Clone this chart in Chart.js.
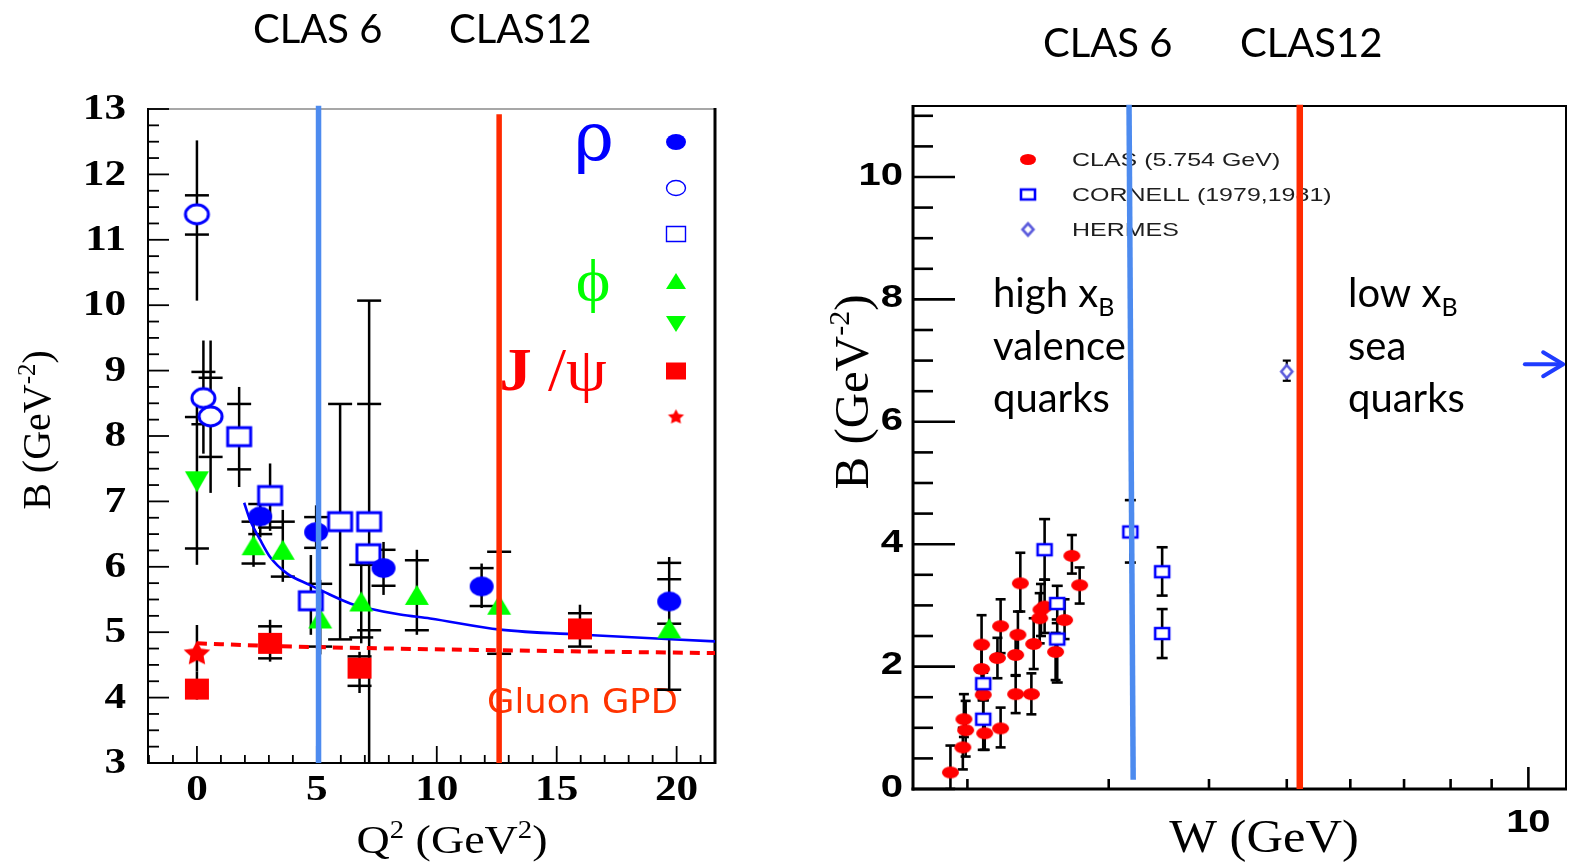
<!DOCTYPE html>
<html>
<head>
<meta charset="utf-8">
<script src="https://cdn.jsdelivr.net/npm/chart.js@4.4.1/dist/chart.umd.min.js"></script>
<style>
  html, body { margin: 0; padding: 0; background: #fff; }
  #wrap { position: relative; width: 1569px; height: 865px; overflow: hidden; background: #fff; }
  #left { position: absolute; left: 0; top: 0; }
  #right { position: absolute; left: 780px; top: 0; }
</style>
</head>
<body>
<div id="wrap">
  <canvas id="left" width="760" height="865"></canvas>
  <canvas id="right" width="789" height="865"></canvas>
</div>
<script>
// ---------- Left panel: B (GeV^-2) vs Q^2 (GeV^2) ----------
// each point: x = Q^2, y = B, lo/hi = error bar extent, caps = tick marks on the bar
const rhoFilled = [
  { x: 2.64,  y: 6.77, lo: 6.45, hi: 7.02, caps: [6.50, 6.96] },
  { x: 4.97,  y: 6.53, lo: 6.29, hi: 6.94, caps: [6.29, 6.76] },
  { x: 7.78,  y: 5.98, lo: 5.57, hi: 6.38, caps: [5.71, 6.26] },
  { x: 11.87, y: 5.70, lo: 5.37, hi: 6.05, caps: [5.40, 5.98] },
  { x: 19.69, y: 5.47, lo: 4.12, hi: 6.15, caps: [4.12, 5.13, 5.81, 6.06] }
];
const rhoOpenCircle = [
  { x: 0.00, y: 11.39, lo: 10.07, hi: 12.52, caps: [11.08, 11.68] },
  { x: 0.27, y: 8.58,  lo: 7.73,  hi: 9.46,  caps: [8.18, 8.98] },
  { x: 0.57, y: 8.30,  lo: 7.13,  hi: 9.46,  caps: [7.68, 8.89] }
];
const rhoOpenSquare = [
  { x: 1.76, y: 7.99, lo: 7.22, hi: 8.75, caps: [7.49, 8.49] },
  { x: 3.05, y: 7.09, lo: 6.55, hi: 7.58, caps: [6.60] },
  { x: 4.75, y: 5.48, lo: 4.96, hi: 6.18, caps: [] },
  { x: 5.97, y: 6.69, lo: 4.89, hi: 8.49, caps: [4.89, 8.49] },
  { x: 7.18, y: 6.69, lo: 2.50, hi: 10.07, caps: [5.03, 8.49, 10.07] },
  { x: 7.15, y: 6.20 }
];
const phiUp = [
  { x: 2.36,  y: 6.33, lo: 6.00, hi: 6.75, caps: [6.05, 6.69] },
  { x: 3.58,  y: 6.26, lo: 5.77, hi: 6.87, caps: [5.85, 6.69] },
  { x: 5.14,  y: 5.21, lo: 4.66, hi: 5.80, caps: [4.78, 5.74] },
  { x: 6.85,  y: 5.47, lo: 4.83, hi: 6.08, caps: [4.92, 6.03] },
  { x: 9.17,  y: 5.57, lo: 4.96, hi: 6.26, caps: [5.03, 6.10] },
  { x: 12.60, y: 5.42, lo: 4.67, hi: 6.23, caps: [4.67, 6.23] },
  { x: 19.69, y: 5.06 }
];
const phiDown = [
  { x: 0.00, y: 7.30, lo: 6.03, hi: 8.55, caps: [6.28, 8.29] }
];
const jpsiSquare = [
  { x: 0.00,  y: 4.13, lo: 3.97, hi: 4.40, caps: [] },
  { x: 3.05,  y: 4.83, lo: 4.55, hi: 5.19, caps: [4.60, 5.09] },
  { x: 6.78,  y: 4.45, lo: 4.07, hi: 4.70, caps: [4.18, 4.63] },
  { x: 15.97, y: 5.05, lo: 4.78, hi: 5.42, caps: [4.78, 5.29] }
];
const jpsiStar = [
  { x: 0.00, y: 4.70, lo: 4.40, hi: 5.11, caps: [] }
];
// fitted curves
const rhoFit = [[1.97, 6.98], [2.22, 6.71], [2.64, 6.41], [3.05, 6.15], [3.75, 5.90], [4.72, 5.72],
  [5.28, 5.62], [6.39, 5.44], [7.08, 5.37], [8.47, 5.27], [9.72, 5.21], [12.64, 5.04], [16.1, 4.96], [21.6, 4.86]];
const gluonFit = [[0, 4.83], [3, 4.79], [9.7, 4.74], [21.6, 4.68]];
// CLAS 6 / CLAS12 reach in Q^2
const clas6Q2 = 5.07, clas12Q2 = 12.6;
const leftYLabels = [3, 4, 5, 6, 7, 8, 9, 10, 11, 12, 13];
const leftXLabels = [0, 5, 10, 15, 20];

// ---------- Right panel: B (GeV^-2) vs W (GeV) ----------
const clasW = [
  { x: 1.905, y: 0.27, lo: 0.00, hi: 0.71 },
  { x: 1.974, y: 0.68, lo: 0.32, hi: 1.00 },
  { x: 1.990, y: 0.96, lo: 0.53, hi: 1.44 },
  { x: 1.980, y: 1.14, lo: 0.85, hi: 1.55 },
  { x: 2.083, y: 2.36, lo: 1.90, hi: 2.84 },
  { x: 2.083, y: 1.96, lo: 1.60, hi: 2.30 },
  { x: 2.093, y: 1.54, lo: 1.20, hi: 1.90 },
  { x: 2.102, y: 0.91, lo: 0.64, hi: 1.20 },
  { x: 2.180, y: 2.14, lo: 1.81, hi: 2.47 },
  { x: 2.200, y: 2.66, lo: 2.22, hi: 3.10 },
  { x: 2.200, y: 0.99, lo: 0.68, hi: 1.33 },
  { x: 2.297, y: 2.19, lo: 1.85, hi: 2.55 },
  { x: 2.297, y: 1.55, lo: 1.24, hi: 1.86 },
  { x: 2.312, y: 2.52, lo: 2.20, hi: 2.90 },
  { x: 2.328, y: 3.36, lo: 2.90, hi: 3.86 },
  { x: 2.403, y: 1.55, lo: 1.22, hi: 1.89 },
  { x: 2.419, y: 2.37, lo: 1.96, hi: 2.79 },
  { x: 2.461, y: 2.79, lo: 2.38, hi: 3.20 },
  { x: 2.470, y: 2.93, lo: 2.50, hi: 3.35 },
  { x: 2.496, y: 2.98, lo: 2.55, hi: 3.42 },
  { x: 2.576, y: 2.24, lo: 1.78, hi: 2.55 },
  { x: 2.643, y: 2.76, lo: 2.45, hi: 3.10 },
  { x: 2.699, y: 3.81, lo: 3.52, hi: 4.15 },
  { x: 2.760, y: 3.33, lo: 3.03, hi: 3.62 }
];
const cornellW = [
  { x: 2.093, y: 1.72, lo: 1.45, hi: 1.97 },
  { x: 2.093, y: 1.14, lo: 0.64, hi: 1.45 },
  { x: 2.496, y: 3.91, lo: 3.42, hi: 4.41 },
  { x: 2.588, y: 3.03, lo: 2.71, hi: 3.32 },
  { x: 2.588, y: 2.45, lo: 1.74, hi: 2.77 },
  { x: 3.192, y: 4.20, lo: 3.70, hi: 4.72 },
  { x: 3.497, y: 3.55, lo: 3.16, hi: 3.95 },
  { x: 3.497, y: 2.54, lo: 2.14, hi: 2.94 }
];
const hermesW = [
  { x: 5.00, y: 6.82, lo: 6.67, hi: 7.00 }
];
// CLAS 6 line leans slightly; CLAS12 reach in W
const clas6W = [[3.18, 11.18], [3.218, 0.15]];
const clas12W = [[5.19, 11.18], [5.19, 0.0]];
const rightYLabels = [0, 2, 4, 6, 8, 10];
const rightXLabels = [10];

// ---------- helpers ----------
const SERIF = '"Liberation Serif", "DejaVu Serif", "Times New Roman", serif';
const SANS = '"Liberation Sans", Arial, sans-serif';
const LATO = 'Lato, "Open Sans", sans-serif';

function marker(kind, w, h, color, lw) {
  const pad = (lw || 0) + 2;
  const c = document.createElement('canvas');
  c.width = Math.ceil(w + pad * 2);
  c.height = Math.ceil(h + pad * 2);
  const g = c.getContext('2d');
  const cx = c.width / 2, cy = c.height / 2;
  g.beginPath();
  if (kind === 'ellipse') {
    g.ellipse(cx, cy, w / 2, h / 2, 0, 0, Math.PI * 2);
  } else if (kind === 'rect') {
    g.rect(cx - w / 2, cy - h / 2, w, h);
  } else if (kind === 'triUp') {
    g.moveTo(cx, cy - h / 2); g.lineTo(cx + w / 2, cy + h / 2); g.lineTo(cx - w / 2, cy + h / 2); g.closePath();
  } else if (kind === 'triDown') {
    g.moveTo(cx, cy + h / 2); g.lineTo(cx + w / 2, cy - h / 2); g.lineTo(cx - w / 2, cy - h / 2); g.closePath();
  } else if (kind === 'diamond') {
    g.moveTo(cx, cy - h / 2); g.lineTo(cx + w / 2, cy); g.lineTo(cx, cy + h / 2); g.lineTo(cx - w / 2, cy); g.closePath();
  } else if (kind === 'star') {
    for (let i = 0; i < 10; i++) {
      const r = i % 2 === 0 ? 1 : 0.5;
      const a = -Math.PI / 2 + i * Math.PI / 5;
      const px = cx + Math.cos(a) * r * w / 2;
      const py = cy + 0.08 * h + Math.sin(a) * r * h / 2 * 1.05;
      if (i === 0) g.moveTo(px, py); else g.lineTo(px, py);
    }
    g.closePath();
  }
  if (lw) {
    g.fillStyle = '#fff'; g.fill();
    g.lineWidth = lw; g.strokeStyle = color; g.stroke();
  } else {
    g.fillStyle = color; g.fill();
  }
  return c;
}

function seg(ctx, x1, y1, x2, y2, color, lw) {
  ctx.save();
  ctx.strokeStyle = color; ctx.lineWidth = lw; ctx.lineCap = 'butt';
  ctx.beginPath(); ctx.moveTo(x1, y1); ctx.lineTo(x2, y2); ctx.stroke();
  ctx.restore();
}

// draws a run of text pieces: kind '' normal, 'b' bold, 'sup' superscript, 'sub' subscript
function rich(ctx, parts, x, y, size, family, color, opts) {
  opts = opts || {};
  ctx.save();
  ctx.translate(x, y);
  if (opts.rot) ctx.rotate(opts.rot);
  ctx.scale(opts.sx || 1, opts.sy || 1);
  ctx.fillStyle = color;
  ctx.textBaseline = opts.base || 'alphabetic';
  ctx.textAlign = 'left';
  const fontFor = k => (k === 'b' || opts.bold ? 'bold ' : '') +
    ((k === 'sup' || k === 'sub') ? Math.round(size * 0.62) : size) + 'px ' + family;
  let total = 0;
  for (const [t, k] of parts) { ctx.font = fontFor(k); total += ctx.measureText(t).width; }
  let cx = opts.align === 'left' ? 0 : opts.align === 'right' ? -total : -total / 2;
  for (const [t, k] of parts) {
    ctx.font = fontFor(k);
    const dy = k === 'sup' ? -size * 0.38 : k === 'sub' ? size * 0.22 : 0;
    ctx.fillText(t, cx, dy);
    cx += ctx.measureText(t).width;
  }
  ctx.restore();
}

function drawErrorBars(chart) {
  const { ctx, chartArea: a, scales: { x, y } } = chart;
  ctx.save();
  ctx.beginPath(); ctx.rect(a.left, a.top, a.right - a.left, a.bottom - a.top); ctx.clip();
  ctx.strokeStyle = '#000'; ctx.lineCap = 'butt';
  chart.data.datasets.forEach(ds => {
    if (!ds.bars) return;
    ctx.lineWidth = ds.bars.lw;
    ds.data.forEach(d => {
      if (d.lo == null) return;
      const px = x.getPixelForValue(d.x);
      ctx.beginPath();
      ctx.moveTo(px, y.getPixelForValue(d.lo));
      ctx.lineTo(px, y.getPixelForValue(d.hi));
      ctx.stroke();
      const caps = d.caps || [d.lo, d.hi];
      caps.forEach(c => {
        const py = y.getPixelForValue(c);
        ctx.beginPath(); ctx.moveTo(px - ds.bars.cap / 2, py); ctx.lineTo(px + ds.bars.cap / 2, py); ctx.stroke();
      });
    });
  });
  ctx.restore();
}

const pts = arr => arr.map(([x, y]) => ({ x, y }));

// ---------- markers ----------
const GREEN = '#00ff00';
const mRhoFilled = marker('ellipse', 24, 20, '#0000ff');
const mRhoCircle = marker('ellipse', 23, 19, '#0000ff', 3);
const mRhoSquare = marker('rect', 23, 18, '#0000ff', 3);
const mPhiUp = marker('triUp', 24, 20, GREEN);
const mPhiDown = marker('triDown', 24, 21, GREEN);
const mJpsiSq = marker('rect', 24, 21, '#ff0000');
const mJpsiStar = marker('star', 28, 25, '#ff0000');
const legendLeft = [
  marker('ellipse', 20, 16, '#0000ff'),
  marker('ellipse', 19, 15, '#0000ff', 1.4),
  marker('rect', 19, 15, '#0000ff', 1.4),
  marker('triUp', 20, 16, GREEN),
  marker('triDown', 20, 16, GREEN),
  marker('rect', 20, 17, '#ff0000'),
  marker('star', 17, 15, '#ff0000')
];
const mClas = marker('ellipse', 17, 12, '#ff0000');
const mCornell = marker('rect', 14, 11, '#0000ff', 2.6);
const mHermes = marker('diamond', 11, 13, '#5b5bdc', 2.6);
const legendRight = [
  marker('ellipse', 16, 11, '#ff0000'),
  marker('rect', 14, 10, '#0000ff', 2.6),
  marker('diamond', 11, 12, '#5b5bdc', 2.6)
];

// ---------- left panel decorations ----------
const leftDecor = {
  id: 'leftDecor',
  beforeDatasetsDraw(chart) {
    const { ctx, chartArea: a, scales: { x, y } } = chart;
    // frame
    seg(ctx, a.left, a.top, a.right, a.top, '#8a8a8a', 1.5);
    seg(ctx, a.left, a.top - 1, a.left, a.bottom + 1, '#000', 2);
    seg(ctx, a.left - 1, a.bottom, a.right + 1, a.bottom, '#000', 2);
    seg(ctx, a.right, a.top - 1, a.right, a.bottom + 1, '#000', 3);
    // inward ticks
    for (let v = 3; v <= 13.001; v += 0.25) {
      const py = y.getPixelForValue(v);
      const major = Math.abs(v - Math.round(v)) < 1e-6;
      seg(ctx, a.left, py, a.left + (major ? 21 : 11), py, '#000', 1.8);
    }
    for (let v = -2; v <= 21; v++) {
      const px = x.getPixelForValue(v);
      seg(ctx, px, a.bottom, px, a.bottom - (v % 5 === 0 ? 17 : 8), '#000', 1.8);
    }
    // tick labels
    leftYLabels.forEach(v => rich(ctx, [[String(v), 'b']], a.left - 22, y.getPixelForValue(v) + 1,
      36, SERIF, '#000', { align: 'right', base: 'middle', sx: 1.2 }));
    leftXLabels.forEach(v => rich(ctx, [[String(v), 'b']], x.getPixelForValue(v), 791,
      36, SERIF, '#000', { base: 'middle', sx: 1.2 }));
    // axis titles
    rich(ctx, [['B (GeV', ''], ['-2', 'sup'], [')', '']], 50, 430, 40, SERIF, '#000', { rot: -Math.PI / 2 });
    rich(ctx, [['Q', ''], ['2', 'sup'], [' (GeV', ''], ['2', 'sup'], [')', '']], 452, 853, 40, SERIF, '#000', { sx: 1.15 });
    // facility labels
    rich(ctx, [['CLAS 6', '']], 253, 43, 40, LATO, '#000', { align: 'left' });
    rich(ctx, [['CLAS12', '']], 449, 43, 40, LATO, '#000', { align: 'left' });
    // meson labels and symbol key
    rich(ctx, [['ρ', '']], 594, 160, 68, '"DejaVu Serif", serif', '#0000ff', { sx: 1.0 });
    rich(ctx, [['ϕ', '']], 593, 300, 60, SERIF, GREEN, { sx: 1.1 });
    rich(ctx, [['J', 'b'], [' /ψ', '']], 553, 390, 62, SERIF, '#ff0000', { sx: 1.05 });
    const keyY = [142, 188, 234, 281, 324, 371, 416];
    legendLeft.forEach((img, i) => ctx.drawImage(img, 676 - img.width / 2, keyY[i] - img.height / 2));
    rich(ctx, [['Gluon GPD', '']], 487, 713, 34, '"DejaVu Sans", sans-serif', '#ff3300', { align: 'left', sx: 1.04 });
    drawErrorBars(chart);
  }
};

const leftChart = new Chart(document.getElementById('left'), {
  type: 'scatter',
  data: {
    datasets: [
      { label: 'CLAS 6', type: 'line', data: pts([[clas6Q2, 13.05], [clas6Q2, 3.0]]), borderColor: '#4d8bef', borderWidth: 5.5, pointRadius: 0, clip: false, order: -1 },
      { label: 'CLAS12', type: 'line', data: pts([[clas12Q2, 12.92], [clas12Q2, 3.0]]), borderColor: '#ff2a00', borderWidth: 5.5, pointRadius: 0, clip: false, order: -1 },
      { label: 'ρ', data: rhoFilled, pointStyle: mRhoFilled, pointRadius: 10, bars: { lw: 2.5, cap: 24 } },
      { label: 'ρ open', data: rhoOpenCircle, pointStyle: mRhoCircle, pointRadius: 10, bars: { lw: 2.5, cap: 24 } },
      { label: 'ρ square', data: rhoOpenSquare, pointStyle: mRhoSquare, pointRadius: 10, bars: { lw: 2.5, cap: 24 } },
      { label: 'ϕ up', data: phiUp, pointStyle: mPhiUp, pointRadius: 10, bars: { lw: 2.5, cap: 24 } },
      { label: 'ϕ down', data: phiDown, pointStyle: mPhiDown, pointRadius: 10, bars: { lw: 2.5, cap: 24 } },
      { label: 'J/ψ', data: jpsiSquare, pointStyle: mJpsiSq, pointRadius: 10, bars: { lw: 2.5, cap: 24 } },
      { label: 'J/ψ star', data: jpsiStar, pointStyle: mJpsiStar, pointRadius: 10, bars: { lw: 2.5, cap: 24 } },
      { label: 'ρ fit', type: 'line', data: pts(rhoFit), borderColor: '#0000ff', borderWidth: 2.6, pointRadius: 0, cubicInterpolationMode: 'monotone', order: 1 },
      { label: 'gluon fit', type: 'line', data: pts(gluonFit), borderColor: '#ff0000', borderWidth: 4, borderDash: [10, 7], pointRadius: 0, cubicInterpolationMode: 'monotone', order: 1 }
    ]
  },
  options: {
    responsive: false, animation: false, devicePixelRatio: 1,
    layout: { autoPadding: false, padding: { left: 0, top: 109, right: 45, bottom: 0 } },
    plugins: { legend: { display: false }, tooltip: { enabled: false } },
    scales: {
      x: { type: 'linear', min: -2.04, max: 21.6, grid: { display: false }, border: { display: false }, ticks: { display: false },
           afterFit(s) { s.height = 102; } },
      y: { type: 'linear', min: 3, max: 13, grid: { display: false }, border: { display: false }, ticks: { display: false },
           afterFit(s) { s.width = 148; } }
    }
  },
  plugins: [leftDecor]
});

// ---------- right panel decorations ----------
const OX = 780; // page offset of the right canvas
const rightDecor = {
  id: 'rightDecor',
  beforeDatasetsDraw(chart) {
    const { ctx, chartArea: a, scales: { x, y } } = chart;
    // frame
    seg(ctx, a.left, a.top, a.right, a.top, '#000', 2);
    seg(ctx, a.right, a.top - 1, a.right, a.bottom, '#000', 2);
    seg(ctx, a.left, a.top - 1, a.left, a.bottom + 1.5, '#000', 3);
    seg(ctx, a.left - 1.5, a.bottom, a.right + 1, a.bottom, '#000', 3);
    // inward ticks
    for (let v = 0; v <= 11.001; v += 0.5) {
      const py = y.getPixelForValue(v);
      const major = Math.abs(v / 2 - Math.round(v / 2)) < 1e-6;
      seg(ctx, a.left, py, a.left + (major ? 42 : 20), py, '#000', 2.6);
    }
    for (let v = 2; v <= 10; v++) {
      const px = x.getPixelForValue(v);
      seg(ctx, px, a.bottom, px, a.bottom - (v === 10 ? 22 : 10), '#000', 2.6);
    }
    // tick labels
    rightYLabels.forEach(v => rich(ctx, [[String(v), 'b']], a.left - 10, y.getPixelForValue(v) - 1,
      32, SANS, '#000', { align: 'right', base: 'middle', sx: 1.25 }));
    rightXLabels.forEach(v => rich(ctx, [[String(v), 'b']], x.getPixelForValue(v), 823,
      32, SANS, '#000', { base: 'middle', sx: 1.25 }));
    // axis titles
    rich(ctx, [['B (GeV', ''], ['-2', 'sup'], [')', '']], 868 - OX, 392, 49, SERIF, '#000', { rot: -Math.PI / 2 });
    rich(ctx, [['W (GeV)', '']], 1264 - OX, 852, 46, SERIF, '#000', { sx: 1.1 });
    // facility labels
    rich(ctx, [['CLAS 6', '']], 1043 - OX, 57, 40, LATO, '#000', { align: 'left' });
    rich(ctx, [['CLAS12', '']], 1240 - OX, 57, 40, LATO, '#000', { align: 'left' });
    // legend
    const legText = ['CLAS (5.754 GeV)', 'CORNELL (1979,1981)', 'HERMES'];
    const legY = [159.5, 194.5, 229.5];
    legendRight.forEach((img, i) => {
      ctx.drawImage(img, 1028 - OX - img.width / 2, legY[i] - img.height / 2);
      rich(ctx, [[legText[i], '']], 1072 - OX, legY[i] + 6.6, 18.5, SANS, '#1e1e1e', { align: 'left', sx: 1.35 });
    });
    // region notes
    rich(ctx, [['high x', ''], ['B', 'sub']], 993 - OX, 307, 40, LATO, '#000', { align: 'left' });
    rich(ctx, [['valence', '']], 993 - OX, 360, 40, LATO, '#000', { align: 'left' });
    rich(ctx, [['quarks', '']], 993 - OX, 412, 40, LATO, '#000', { align: 'left' });
    rich(ctx, [['low x', ''], ['B', 'sub']], 1348 - OX, 307, 40, LATO, '#000', { align: 'left' });
    rich(ctx, [['sea', '']], 1348 - OX, 360, 40, LATO, '#000', { align: 'left' });
    rich(ctx, [['quarks', '']], 1348 - OX, 412, 40, LATO, '#000', { align: 'left' });
    // arrow toward higher W
    const ax1 = x.getPixelForValue(9.9), ax2 = x.getPixelForValue(11.05), ay = y.getPixelForValue(6.94);
    ctx.save();
    ctx.strokeStyle = '#1f3cff'; ctx.lineWidth = 4; ctx.lineCap = 'round'; ctx.lineJoin = 'round';
    ctx.beginPath(); ctx.moveTo(ax1, ay); ctx.lineTo(ax2 - 2, ay); ctx.stroke();
    ctx.beginPath(); ctx.moveTo(ax2 - 20, ay - 12); ctx.lineTo(ax2, ay); ctx.lineTo(ax2 - 20, ay + 12); ctx.stroke();
    ctx.restore();
    drawErrorBars(chart);
  }
};

const rightChart = new Chart(document.getElementById('right'), {
  type: 'scatter',
  data: {
    datasets: [
      { label: 'CLAS 6', type: 'line', data: pts(clas6W), borderColor: '#4d8bef', borderWidth: 5.5, pointRadius: 0, clip: false, order: -1 },
      { label: 'CLAS12', type: 'line', data: pts(clas12W), borderColor: '#ff2a00', borderWidth: 6.5, pointRadius: 0, clip: false, order: -1 },
      { label: 'HERMES', data: hermesW, pointStyle: mHermes, pointRadius: 8, bars: { lw: 2.2, cap: 8 } },
      { label: 'CORNELL (1979,1981)', data: cornellW, pointStyle: mCornell, pointRadius: 8, bars: { lw: 2.6, cap: 11 } },
      { label: 'CLAS (5.754 GeV)', data: clasW, pointStyle: mClas, pointRadius: 8, bars: { lw: 2.6, cap: 10 } }
    ]
  },
  options: {
    responsive: false, animation: false, devicePixelRatio: 1,
    layout: { autoPadding: false, padding: { left: 0, top: 106, right: 3, bottom: 0 } },
    plugins: { legend: { display: false }, tooltip: { enabled: false } },
    scales: {
      x: { type: 'logarithmic', min: 1.711, max: 11.14, grid: { display: false }, border: { display: false }, ticks: { display: false },
           afterFit(s) { s.height = 76; } },
      y: { type: 'linear', min: 0, max: 11.16, grid: { display: false }, border: { display: false }, ticks: { display: false },
           afterFit(s) { s.width = 133; } }
    }
  },
  plugins: [rightDecor]
});
</script>
</body>
</html>
